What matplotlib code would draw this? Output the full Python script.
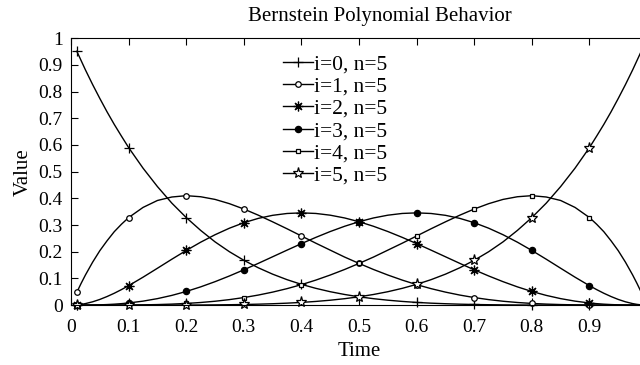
import matplotlib.pyplot as plt

plt.rcParams['font.family'] = ['Liberation Serif', 'DejaVu Serif']

# sample times and basis values, degree 5
t = [0.01, 0.0175, 0.025, 0.0375, 0.05, 0.0625, 0.075, 0.0875, 0.1, 0.125, 0.15, 0.175,
     0.2, 0.225, 0.25, 0.275, 0.3, 0.325, 0.35, 0.375, 0.4, 0.425, 0.45, 0.475, 0.5,
     0.525, 0.55, 0.575, 0.6, 0.625, 0.65, 0.675, 0.7, 0.725, 0.75, 0.775, 0.8, 0.825,
     0.85, 0.875, 0.9, 0.9125, 0.925, 0.9375, 0.95, 0.9625, 0.975, 0.9825, 0.99]

b0 = [0.951, 0.916, 0.881, 0.826, 0.774, 0.724, 0.677, 0.633, 0.590, 0.513, 0.444, 0.382,
      0.328, 0.280, 0.237, 0.200, 0.168, 0.140, 0.116, 0.0954, 0.0778, 0.0629, 0.0503, 0.0399, 0.03125,
      0.0242, 0.0185, 0.0139, 0.0102, 0.0074, 0.0053, 0.0036, 0.0024, 0.0016, 0.001, 0.0006, 0.0003,
      0.0002, 0.0001, 0.0, 0.0, 0.0, 0.0, 0.0, 0.0, 0.0, 0.0, 0.0, 0.0]
b1 = [0.048, 0.0815, 0.113, 0.161, 0.204, 0.241, 0.275, 0.303, 0.328, 0.366, 0.392, 0.405,
      0.410, 0.406, 0.396, 0.380, 0.360, 0.337, 0.312, 0.286, 0.259, 0.232, 0.206, 0.180, 0.15625,
      0.1336, 0.1128, 0.0938, 0.0768, 0.0618, 0.0488, 0.0377, 0.0284, 0.0207, 0.0146, 0.0099, 0.0064,
      0.0039, 0.0022, 0.0011, 0.0005, 0.0003, 0.0002, 0.0001, 0.0, 0.0, 0.0, 0.0, 0.0]
b2 = [0.001, 0.0029, 0.0058, 0.0125, 0.0214, 0.0322, 0.0445, 0.0582, 0.0729, 0.1047, 0.1382, 0.172,
      0.2048, 0.2357, 0.2637, 0.2882, 0.3087, 0.3249, 0.3364, 0.3433, 0.3456, 0.3434, 0.3369, 0.3265, 0.3125,
      0.2954, 0.2757, 0.2538, 0.2304, 0.2060, 0.1812, 0.1564, 0.1323, 0.1093, 0.0879, 0.0684, 0.0512,
      0.0365, 0.0244, 0.0150, 0.0081, 0.0056, 0.0036, 0.0022, 0.0011, 0.0005, 0.0002, 0.0001, 0.0]
b3 = [0.0, 0.00005, 0.00015, 0.0005, 0.0011, 0.0022, 0.0036, 0.0056, 0.0081, 0.0150, 0.0244, 0.0365,
      0.0512, 0.0684, 0.0879, 0.1093, 0.1323, 0.1564, 0.1812, 0.2060, 0.2304, 0.2538, 0.2757, 0.2954, 0.3125,
      0.3265, 0.3369, 0.3434, 0.3456, 0.3433, 0.3364, 0.3249, 0.3087, 0.2882, 0.2637, 0.2357, 0.2048,
      0.172, 0.1382, 0.1047, 0.0729, 0.0582, 0.0445, 0.0322, 0.0214, 0.0125, 0.0058, 0.0029, 0.001]
b4 = [0.0, 0.0, 0.0, 0.0, 0.00003, 0.00007, 0.00015, 0.00027, 0.00045, 0.00107, 0.00215, 0.00387,
      0.0064, 0.0099, 0.0146, 0.0207, 0.0284, 0.0377, 0.0488, 0.0618, 0.0768, 0.0938, 0.1128, 0.1336, 0.15625,
      0.180, 0.206, 0.232, 0.259, 0.286, 0.312, 0.337, 0.360, 0.380, 0.396, 0.406, 0.410,
      0.405, 0.392, 0.366, 0.328, 0.303, 0.275, 0.241, 0.204, 0.161, 0.113, 0.0815, 0.048]
b5 = [0.0, 0.0, 0.0, 0.0, 0.0, 0.0, 0.0, 0.0, 0.00001, 0.00003, 0.00008, 0.00016,
      0.00032, 0.00058, 0.00098, 0.00157, 0.00243, 0.00363, 0.00525, 0.00742, 0.01024, 0.01387, 0.01845, 0.02418, 0.03125,
      0.0399, 0.0503, 0.0629, 0.0778, 0.0954, 0.116, 0.140, 0.168, 0.200, 0.237, 0.280, 0.328,
      0.382, 0.444, 0.513, 0.590, 0.633, 0.677, 0.724, 0.774, 0.826, 0.881, 0.916, 0.951]

labels = ['i=0, n=5', 'i=1, n=5', 'i=2, n=5', 'i=3, n=5', 'i=4, n=5', 'i=5, n=5']
yticks = [0, 0.1, 0.2, 0.3, 0.4, 0.5, 0.6, 0.7, 0.8, 0.9, 1]
xticks = [0, 0.1, 0.2, 0.3, 0.4, 0.5, 0.6, 0.7, 0.8, 0.9]

# marker at 0.01 and then at every 0.1
marks = [0, 8, 12, 16, 20, 24, 28, 32, 36, 40]

styles = [
    dict(marker='+', ms=7, mfc='k'),
    dict(marker='o', ms=4, mfc='white'),
    dict(marker=(8, 2, 0), ms=7, mfc='k'),
    dict(marker='o', ms=4.5, mfc='k'),
    dict(marker='s', ms=3.5, mfc='white'),
    dict(marker='*', ms=8, mfc='white'),
]

fig = plt.figure(figsize=(6.4, 3.65), dpi=100)
ax = fig.add_axes([0.111, 0.164, 0.9, 0.7315])

for y, lab, st in zip([b0, b1, b2, b3, b4, b5], labels, styles):
    ax.plot(t, y, color='k', lw=1.0, mec='k', mew=0.9, markevery=marks,
            label=lab, clip_on=False, **st)

ax.set_xlim(0, 1)
ax.set_ylim(0, 1)
ax.set_xticks(xticks)
ax.set_xticklabels(['0', '0.1', '0.2', '0.3', '0.4', '0.5', '0.6', '0.7', '0.8', '0.9'])
ax.set_yticks(yticks)
ax.set_yticklabels(['0', '0.1', '0.2', '0.3', '0.4', '0.5', '0.6', '0.7', '0.8', '0.9', '1'])
ax.tick_params(direction='in', top=True, right=True, length=5, width=0.8,
               labelsize=14, pad=6)
ax.tick_params(axis='x', pad=10)
for sp in ax.spines.values():
    sp.set_linewidth(0.8)

ax.set_xlabel('Time', fontsize=15, labelpad=4)
ax.set_ylabel('Value', fontsize=15, labelpad=4)
fig.text(0.594, 0.955, 'Bernstein Polynomial Behavior', ha='center', va='center',
         fontsize=15)

ax.legend(loc='upper left', bbox_to_anchor=(0.36, 0.955), frameon=False,
          fontsize=15.5, handlelength=1.4, handletextpad=0.05, labelspacing=0.1,
          borderpad=0.2, borderaxespad=0)

fig.savefig('out.png', dpi=100)
